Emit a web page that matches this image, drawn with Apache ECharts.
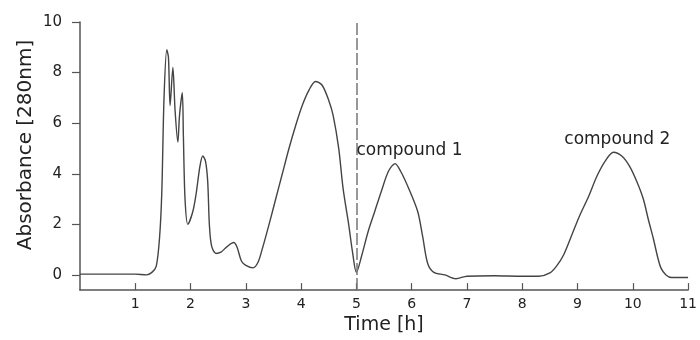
<!DOCTYPE html>
<html>
<head>
<meta charset="utf-8">
<script src="https://cdn.jsdelivr.net/npm/echarts@6/dist/echarts.min.js"></script>
<style>
  html, body { margin: 0; padding: 0; background: #fff; }
  #chart { width: 700px; height: 340px; }
</style>
</head>
<body>
<div id="chart"></div>
<script>
// chromatogram: time [h] and absorbance
const times = [
  0, 0.5, 1.0, 1.2, 1.3, 1.38, 1.44, 1.48, 1.52, 1.57, 1.6, 1.63, 1.68, 1.72, 1.77, 1.8,
  1.85, 1.87, 1.9, 1.95, 2.04, 2.1, 2.17, 2.22, 2.27, 2.31, 2.34, 2.38, 2.46, 2.55, 2.65,
  2.78, 2.84, 2.92, 3.0, 3.13, 3.22, 3.3, 3.42, 3.54, 3.66, 3.78, 3.9, 4.02, 4.14, 4.26,
  4.38, 4.5, 4.58, 4.68, 4.76, 4.86, 4.93, 5.0, 5.1, 5.21, 5.33, 5.45, 5.58, 5.7, 5.8,
  5.95, 6.11, 6.2, 6.29, 6.4, 6.6, 6.8, 7.0, 7.5, 8.0, 8.3, 8.5, 8.62, 8.75, 8.9, 9.04,
  9.2, 9.35, 9.5, 9.65, 9.8, 9.94, 10.07, 10.19, 10.28, 10.37, 10.45, 10.51, 10.6, 10.7, 11.0
]
const absorbance = [
  0.03, 0.03, 0.03, 0.0, 0.1, 0.35, 1.5, 3.3, 7.0, 8.9, 8.6, 6.7, 8.2, 6.5, 5.25, 6.3,
  7.2, 5.5, 3.0, 2.0, 2.5, 3.2, 4.3, 4.7, 4.5, 3.7, 2.0, 1.15, 0.85, 0.9, 1.1,
  1.28, 1.1, 0.55, 0.38, 0.28, 0.5, 1.05, 2.0, 3.0, 4.0, 5.0, 5.9, 6.7, 7.3, 7.65,
  7.5, 6.9, 6.3, 5.0, 3.4, 2.0, 0.9, 0.1, 0.8, 1.7, 2.5, 3.3, 4.1, 4.4, 4.1,
  3.4, 2.5, 1.5, 0.45, 0.1, 0.0, -0.15, -0.05, -0.03, -0.05, -0.05, 0.08, 0.35, 0.8, 1.6, 2.35,
  3.1, 3.9, 4.5, 4.85, 4.7, 4.3, 3.7, 3.0, 2.2, 1.45, 0.7, 0.27, 0.0, -0.1, -0.1
]
const yTicks = [0, 2, 4, 6, 8, 10]
const cutTime = 5
const compounds = [
  { name: 'compound 1', coord: [5.0, 4.9], pos: 'right' },
  { name: 'compound 2', coord: [9.72, 5.37], pos: 'inside' }
]

const font = 'DejaVu Sans'
const chart = echarts.init(document.getElementById('chart'))

chart.setOption({
  animation: false,
  backgroundColor: '#fff',
  grid: { left: 80, right: 8, top: 22, bottom: 48 },
  xAxis: {
    type: 'value',
    min: 0,
    max: 11,
    interval: 1,
    name: 'Time [h]',
    nameLocation: 'middle',
    nameGap: 25,
    nameTextStyle: { fontFamily: font, fontSize: 19, color: '#222' },
    axisLine: { onZero: false, lineStyle: { color: '#555', width: 1.5 } },
    axisTick: { inside: true, length: 7, lineStyle: { color: '#555', width: 1.2 } },
    axisLabel: { showMinLabel: false, fontFamily: font, fontSize: 14, color: '#222', margin: 7 },
    splitLine: { show: false }
  },
  yAxis: {
    type: 'value',
    min: -0.6,
    max: 10,
    axisLine: { show: true, onZero: false, lineStyle: { color: '#555', width: 1.5 } },
    axisTick: { show: true, length: 8, customValues: yTicks, lineStyle: { color: '#555', width: 1.2 } },
    axisLabel: { customValues: yTicks, fontFamily: font, fontSize: 15, color: '#222', margin: 18 },
    splitLine: { show: false }
  },
  graphic: [{
    type: 'text',
    x: 26,
    y: 145,
    rotation: Math.PI / 2,
    style: {
      text: 'Absorbance [280nm]',
      font: '20px "DejaVu Sans"',
      fill: '#222',
      align: 'center',
      verticalAlign: 'middle'
    }
  }],
  series: [{
    type: 'line',
    data: times.map((t, i) => [t, absorbance[i]]),
    showSymbol: false,
    smooth: 0.3,
    lineStyle: { color: '#444', width: 1.4 },
    markLine: {
      silent: true,
      symbol: 'none',
      label: { show: false },
      lineStyle: { color: '#777', type: [12, 3], width: 1.5 },
      data: [{ xAxis: cutTime }]
    },
    markPoint: {
      silent: true,
      symbol: 'circle',
      symbolSize: 0,
      data: compounds.map(c => ({
        coord: c.coord,
        label: {
          show: true,
          formatter: c.name,
          position: c.pos,
          distance: 0,
          fontFamily: font,
          fontSize: 17,
          color: '#222'
        }
      }))
    }
  }]
})
</script>
</body>
</html>
